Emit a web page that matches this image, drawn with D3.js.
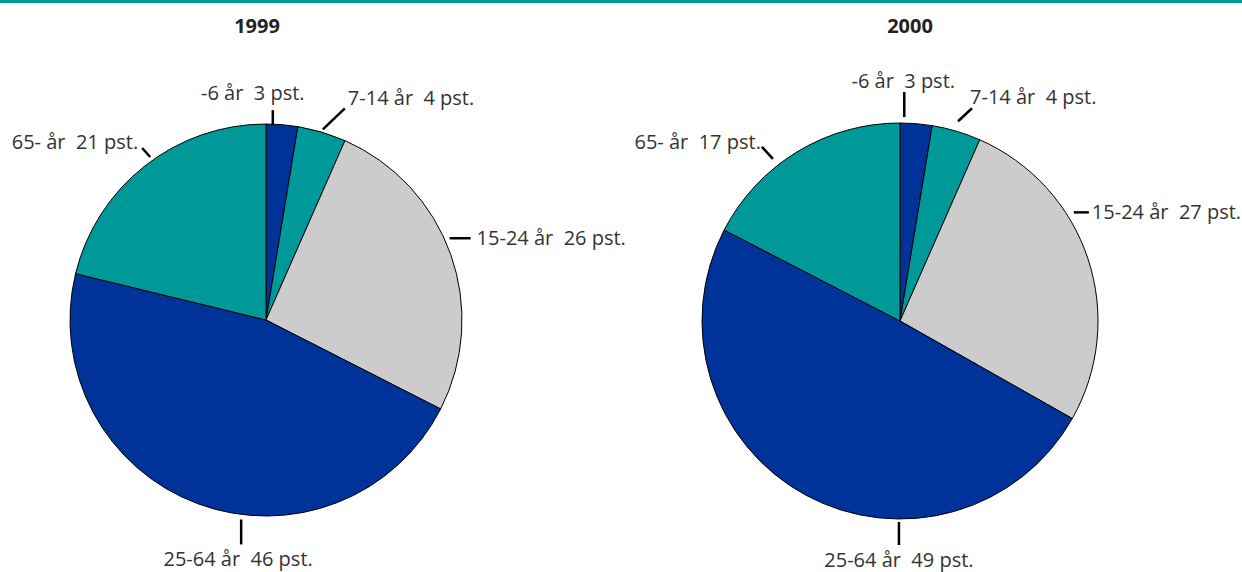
<!DOCTYPE html>
<html><head><meta charset="utf-8">
<script src="https://cdn.jsdelivr.net/npm/d3@7"></script>
<style>
html,body{margin:0;padding:0;background:#fff;}
svg{display:block;}
text{font-family:"Open Sans","Noto Sans",sans-serif;}
</style></head>
<body>
<script>
// ---- data ----
const categories = ["-6 år", "7-14 år", "15-24 år", "25-64 år", "65- år"];
const years = ["1999", "2000"];
const values1999 = [2.6, 4.0, 25.9, 46.3, 21.2];
const values2000 = [2.6, 4.0, 26.6, 49.4, 17.4];
const sliceColors = ["#003399", "#009999", "#cccccc", "#003399", "#009999"];

// ---- layout (not data) ----
const W = 1242, H = 572;
const charts = [
  { year: years[0], values: values1999, cx: 266, cy: 320, r: 196, titleX: 257,
    labels: [
      {ang: 2,     dist: 195, v: [0, -15],  t: [-20, -10], anchor: "middle"},
      {ang: 16.6,  dist: 199, v: [22, -21], t: [3, -3],    anchor: "start"},
      {ang: 66,    dist: 201, v: [21, 0],   t: [6, 7],     anchor: "start"},
      {ang: 187.1, dist: 201, v: [0, 25],   t: [-3, 22],   anchor: "middle"},
      {ang: 324.6, dist: 200, v: [-8, -9],  t: [-4, 1],    anchor: "end"}
    ]},
  { year: years[1], values: values2000, cx: 900, cy: 321, r: 198, titleX: 910,
    labels: [
      {ang: 1.2,   dist: 204, v: [0, -25],  t: [-1, -4],   anchor: "middle"},
      {ang: 16.2,  dist: 208, v: [14, -13], t: [-2, -4],   anchor: "start"},
      {ang: 58,    dist: 205, v: [15, 0],   t: [3, 7],     anchor: "start"},
      {ang: 180.3, dist: 201, v: [0, 23],   t: [0, 22],    anchor: "middle"},
      {ang: 321.9, dist: 206, v: [-11, -12],t: [-1, 2],    anchor: "end"}
    ]}
];

const svg = d3.select("body").append("svg").attr("width", W).attr("height", H);

// top rule
svg.append("rect").attr("x", 0).attr("y", 0).attr("width", W).attr("height", 3).attr("fill", "#009999");

const pie = d3.pie().sort(null).value(d => d);

charts.forEach(c => {
  const g = svg.append("g").attr("transform", `translate(${c.cx},${c.cy})`);
  const arc = d3.arc().innerRadius(0).outerRadius(c.r);
  const arcs = pie(c.values);
  g.selectAll("path").data(arcs).join("path")
    .attr("d", arc)
    .attr("fill", (d, i) => sliceColors[i])
    .attr("stroke", "#000").attr("stroke-width", 1).attr("stroke-linejoin", "round");

  svg.append("text").attr("x", c.titleX).attr("y", 33).attr("text-anchor", "middle")
    .attr("font-size", 20).attr("font-weight", "bold").attr("fill", "#222").text(c.year);

  c.labels.forEach((L, i) => {
    const a = L.ang * Math.PI / 180;
    const x0 = c.cx + L.dist * Math.sin(a), y0 = c.cy - L.dist * Math.cos(a);
    const x1 = x0 + L.v[0], y1 = y0 + L.v[1];
    svg.append("line").attr("x1", x0).attr("y1", y0).attr("x2", x1).attr("y2", y1)
      .attr("stroke", "#000").attr("stroke-width", 2.5);
    svg.append("text").attr("x", x1 + L.t[0]).attr("y", y1 + L.t[1])
      .attr("text-anchor", L.anchor).attr("font-size", 20).attr("fill", "#333")
      .attr("xml:space", "preserve").style("white-space", "pre")
      .text(`${categories[i]}  ${Math.round(c.values[i])} pst.`);
  });
});
</script>
</body></html>
